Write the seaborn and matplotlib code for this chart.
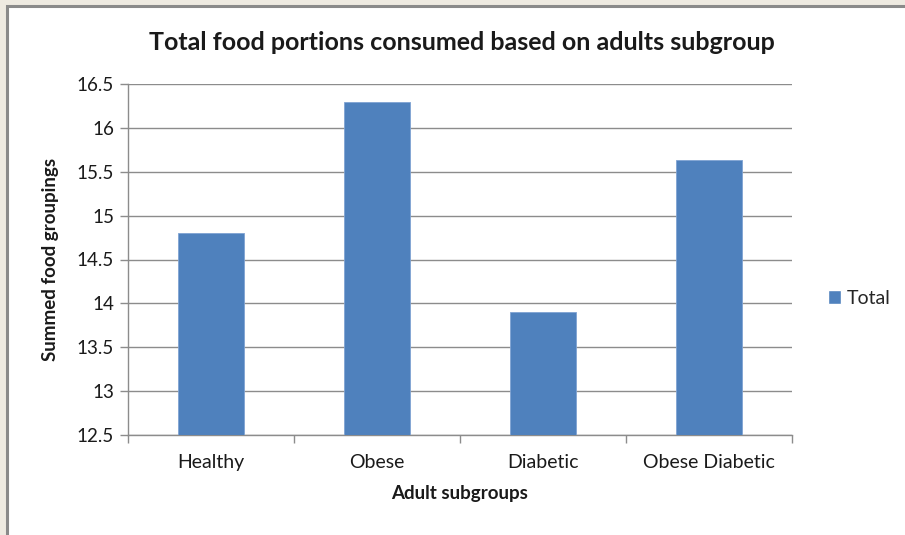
import matplotlib
matplotlib.use("Agg")
import matplotlib.pyplot as plt
from matplotlib.patches import Rectangle
from matplotlib.ticker import FixedLocator, FuncFormatter
import seaborn as sns
import pandas as pd

# Data
categories = ["Healthy", "Obese", "Diabetic", "Obese Diabetic"]
totals = [14.8, 16.3, 13.9, 15.63]
y_ticks = [12.5, 13, 13.5, 14, 14.5, 15, 15.5, 16, 16.5]

title = "Total food portions consumed based on adults subgroup"
x_label = "Adult subgroups"
y_label = "Summed food groupings"
series_name = "Total"

sns.set_theme(style="white")
plt.rcParams["font.family"] = ["Lato", "DejaVu Sans"]

bar_color = "#4F81BD"
grid_color = "#8C8C8C"
text_color = "#1A1A1A"

df = pd.DataFrame({"group": categories, "value": totals})

fig = plt.figure(figsize=(9.05, 5.35), dpi=100)
fig.patch.set_facecolor("#EEEAE1")

# White chart area with grey frame
frame = Rectangle((7 / 905, -0.05), 1.0, 1.05 - 6 / 535,
                  transform=fig.transFigure, facecolor="white",
                  edgecolor="#8A8A8A", linewidth=2.2, zorder=-5)
fig.patches.append(frame)

ax = fig.add_axes([128 / 905, 100 / 535, 664 / 905, 351 / 535])
ax.set_facecolor("none")

sns.barplot(data=df, x="group", y="value", color=bar_color, width=0.4,
            edgecolor="#7FA3D3", linewidth=0.6, ax=ax, zorder=3,
            saturation=1.0)

ax.set_ylim(12.5, 16.5)
ax.set_xlim(-0.5, len(categories) - 0.5)
ax.set_yticks(y_ticks)
ax.yaxis.set_major_formatter(FuncFormatter(lambda v, p: f"{v:g}"))
ax.yaxis.grid(True, color=grid_color, linewidth=1.0, zorder=0)
ax.set_axisbelow(True)

# Category boundary ticks on x, labels at centres
ax.xaxis.set_major_locator(FixedLocator([i - 0.5 for i in range(len(categories) + 1)]))
ax.xaxis.set_major_formatter(FuncFormatter(lambda v, p: ""))
ax.xaxis.set_minor_locator(FixedLocator(list(range(len(categories)))))
ax.set_xticklabels(categories, minor=True)
ax.tick_params(axis="x", which="major", direction="out", length=6,
               width=1, color=grid_color, bottom=True)
ax.tick_params(axis="x", which="minor", length=0, pad=14,
               labelsize=14, labelcolor=text_color)
ax.tick_params(axis="y", direction="out", length=6, width=1,
               color=grid_color, left=True, labelsize=13.5,
               labelcolor=text_color, pad=4)

for s in ["top", "right"]:
    ax.spines[s].set_visible(False)
for s in ["left", "bottom"]:
    ax.spines[s].set_color(grid_color)
    ax.spines[s].set_linewidth(1.0)

ax.set_xlabel(x_label, fontsize=13.5, fontweight="bold", color=text_color,
              labelpad=10)
ax.set_ylabel(y_label, fontsize=13.5, fontweight="bold", color=text_color,
              labelpad=13)

fig.text(462 / 905, 1 - 43 / 535, title, ha="center", va="center",
         fontsize=18, fontweight="bold", color=text_color)

handle = Rectangle((0, 0), 1, 1, facecolor=bar_color)
fig.legend([handle], [series_name], loc="center left",
           bbox_to_anchor=(810 / 905, 1 - 298 / 535), frameon=False,
           fontsize=14, handlelength=0.7, handleheight=0.7,
           handletextpad=0.3)

fig.savefig("out.png", dpi=100, facecolor=fig.get_facecolor())
